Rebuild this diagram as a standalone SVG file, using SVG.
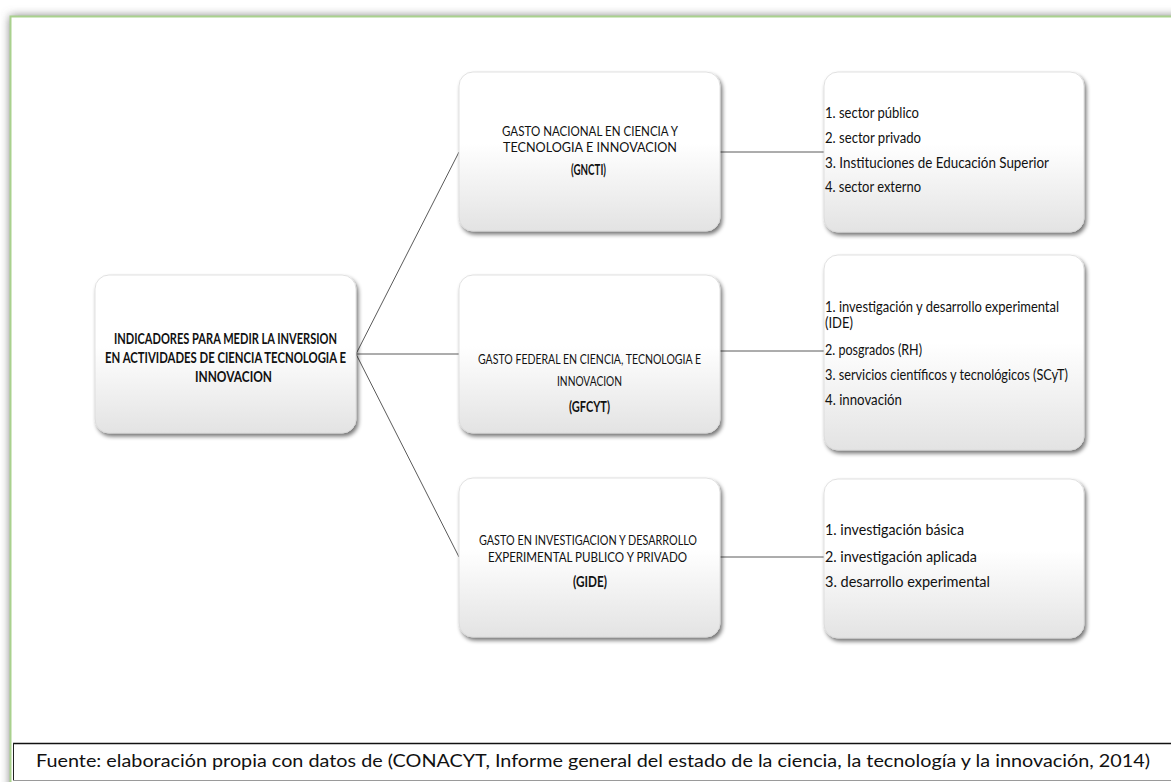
<svg xmlns="http://www.w3.org/2000/svg" width="1171" height="782" viewBox="0 0 1171 782">
  <defs>
    <linearGradient id="boxFill" x1="0" y1="0" x2="0" y2="1">
      <stop offset="0" stop-color="#ffffff"/>
      <stop offset="0.45" stop-color="#ffffff"/>
      <stop offset="1" stop-color="#e3e3e3"/>
    </linearGradient>
    <filter id="boxShadow" x="-10%" y="-10%" width="125%" height="130%">
      <feGaussianBlur in="SourceAlpha" stdDeviation="2"/>
      <feOffset dx="2" dy="3" result="off"/>
      <feComponentTransfer>
        <feFuncA type="linear" slope="0.55"/>
      </feComponentTransfer>
      <feMerge>
        <feMergeNode/>
        <feMergeNode in="SourceGraphic"/>
      </feMerge>
    </filter>
    <filter id="frameGlow" x="-5%" y="-5%" width="110%" height="110%">
      <feGaussianBlur stdDeviation="5"/>
    </filter>
    <style>
      .box { fill: url(#boxFill); stroke: #d9d9d9; stroke-width: 0.8; filter: url(#boxShadow); }
      .t { font-family: "Lato", "Liberation Sans", sans-serif; font-size: 14px; fill: #111; }
      .c { text-anchor: middle; }
      .b { font-weight: bold; font-size: 14.5px; }
      .item { font-family: "Lato", "Liberation Sans", sans-serif; font-size: 15px; fill: #111; }
      .link { stroke: #5a5a5a; stroke-width: 1; fill: none; }
      .cap { font-family: "Lato", "Liberation Sans", sans-serif; font-size: 16.5px; fill: #111; }
    </style>
  </defs>

  <!-- page background and framed panel -->
  <rect x="0" y="0" width="1171" height="782" fill="#ffffff"/>
  <rect x="10" y="16" width="1200" height="800" fill="#7a7a7a" filter="url(#frameGlow)"/>
  <rect x="10.5" y="16.5" width="1200" height="800" fill="#ffffff" stroke="#a9d18e" stroke-width="2"/>

  <!-- connectors -->
  <g id="connectors">
    <line class="link" x1="356" y1="354" x2="459" y2="152"/>
    <line class="link" x1="356" y1="354" x2="459" y2="354"/>
    <line class="link" x1="356" y1="354" x2="459" y2="557"/>
    <line class="link" x1="720" y1="152" x2="824" y2="152"/>
    <line class="link" x1="720" y1="351" x2="824" y2="351"/>
    <line class="link" x1="720" y1="557" x2="824" y2="557"/>
  </g>

  <!-- root -->
  <g id="node-root">
    <rect class="box" x="95" y="275" width="261" height="158" rx="14"/>
    <text class="t c b" x="225.5" y="344" textLength="223" lengthAdjust="spacingAndGlyphs">INDICADORES PARA MEDIR LA INVERSION</text>
    <text class="t c b" x="225.5" y="363" textLength="241" lengthAdjust="spacingAndGlyphs">EN ACTIVIDADES DE CIENCIA TECNOLOGIA E</text>
    <text class="t c b" x="233.5" y="382" textLength="77" lengthAdjust="spacingAndGlyphs">INNOVACION</text>
  </g>

  <!-- middle column -->
  <g id="node-gncti">
    <rect class="box" x="459" y="72" width="261" height="159" rx="14"/>
    <text class="t c" x="590" y="136" textLength="176" lengthAdjust="spacingAndGlyphs">GASTO NACIONAL EN CIENCIA Y</text>
    <text class="t c" x="590" y="152" textLength="174" lengthAdjust="spacingAndGlyphs">TECNOLOGIA  E INNOVACION</text>
    <text class="t c b" x="588.5" y="175" textLength="35" lengthAdjust="spacingAndGlyphs">(GNCTI)</text>
  </g>

  <g id="node-gfcyt">
    <rect class="box" x="459" y="275" width="261" height="158" rx="14"/>
    <text class="t c" x="589.5" y="364" textLength="223" lengthAdjust="spacingAndGlyphs">GASTO FEDERAL EN CIENCIA, TECNOLOGIA E</text>
    <text class="t c" x="589.5" y="386" textLength="65" lengthAdjust="spacingAndGlyphs">INNOVACION</text>
    <text class="t c b" x="589.5" y="412" textLength="41" lengthAdjust="spacingAndGlyphs">(GFCYT)</text>
  </g>

  <g id="node-gide">
    <rect class="box" x="459" y="478" width="261" height="159" rx="14"/>
    <text class="t c" x="588" y="545" textLength="218" lengthAdjust="spacingAndGlyphs">GASTO EN INVESTIGACION Y DESARROLLO</text>
    <text class="t c" x="587.5" y="562" textLength="199" lengthAdjust="spacingAndGlyphs">EXPERIMENTAL PUBLICO Y PRIVADO</text>
    <text class="t c b" x="590" y="587" textLength="34" lengthAdjust="spacingAndGlyphs">(GIDE)</text>
  </g>

  <!-- right column -->
  <g id="node-gncti-items">
    <rect class="box" x="824" y="72" width="260" height="160" rx="14"/>
    <text class="item" x="825" y="118" textLength="94" lengthAdjust="spacingAndGlyphs">1. sector público</text>
    <text class="item" x="825" y="143" textLength="96" lengthAdjust="spacingAndGlyphs">2. sector privado</text>
    <text class="item" x="825" y="168" textLength="224" lengthAdjust="spacingAndGlyphs">3. Instituciones de Educación Superior</text>
    <text class="item" x="825" y="192" textLength="96" lengthAdjust="spacingAndGlyphs">4. sector externo</text>
  </g>

  <g id="node-gfcyt-items">
    <rect class="box" x="824" y="255" width="260" height="195" rx="14"/>
    <text class="item" x="825" y="312" textLength="234" lengthAdjust="spacingAndGlyphs">1. investigación y desarrollo experimental</text>
    <text class="item" x="825" y="328" textLength="28" lengthAdjust="spacingAndGlyphs">(IDE)</text>
    <text class="item" x="825" y="355" textLength="97" lengthAdjust="spacingAndGlyphs">2. posgrados (RH)</text>
    <text class="item" x="825" y="380" textLength="243" lengthAdjust="spacingAndGlyphs">3. servicios científicos y tecnológicos (SCyT)</text>
    <text class="item" x="825" y="405" textLength="77" lengthAdjust="spacingAndGlyphs">4. innovación</text>
  </g>

  <g id="node-gide-items">
    <rect class="box" x="824" y="479" width="260" height="159" rx="14"/>
    <text class="item" x="825" y="535" textLength="139" lengthAdjust="spacingAndGlyphs">1. investigación básica</text>
    <text class="item" x="825" y="562" textLength="152" lengthAdjust="spacingAndGlyphs">2. investigación aplicada</text>
    <text class="item" x="825" y="587" textLength="165" lengthAdjust="spacingAndGlyphs">3. desarrollo experimental</text>
  </g>

  <!-- source caption -->
  <g id="caption">
    <rect x="13" y="743" width="1200" height="37" fill="#ffffff"/>
    <line x1="13" y1="743.5" x2="1171" y2="743.5" stroke="#111" stroke-width="1.5"/>
    <line x1="13.5" y1="743" x2="13.5" y2="781" stroke="#222" stroke-width="1"/>
    <line x1="13" y1="780.5" x2="1171" y2="780.5" stroke="#9a9a9a" stroke-width="1"/>
    <text class="cap" x="36" y="767" textLength="1114" lengthAdjust="spacingAndGlyphs">Fuente: elaboración propia con datos de (CONACYT, Informe general del estado de la ciencia, la tecnología y la innovación, 2014)</text>
  </g>
</svg>
